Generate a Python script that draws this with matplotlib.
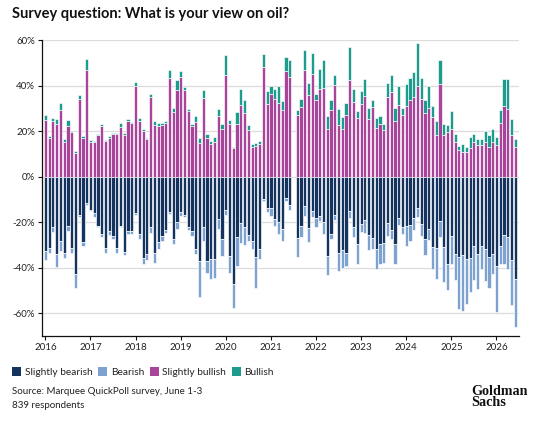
import matplotlib
matplotlib.use("Agg")
import matplotlib.pyplot as plt
from matplotlib.patches import Patch
from matplotlib.ticker import FuncFormatter
import numpy as np

plt.rcParams['font.family'] = ['Lato', 'DejaVu Sans']

# monthly survey, Jan 2016 .. Jun 2026 (no poll in Jul 2021 -> None)
start_year = 2016
years = list(range(2016, 2027))

slightly_bullish = [
    25.0, 16.8, 24.6, 23.1, 29.3, 15.1, 22.1, 19.5, 10.4, 34.1, 16.8, 47.0,
    15.1, 15.1, 18.2, 22.4, 15.5, 16.8, 18.7, 18.7, 22.0, 18.3, 24.6, 23.4,
    39.7, 24.3, 20.2, 16.5, 34.8, 22.8, 22.1, 22.7, 23.6, 43.3, 28.4, 38.1,
    43.9, 38.1, 29.0, 22.4, 24.2, 14.8, 34.7, 17.0, 14.4, 15.3, 26.5, 21.1,
    44.7, 23.1, 12.4, 23.3, 31.6, 28.1, 20.4, 13.1, 13.4, 14.5, 48.0, 32.0,
    36.4, 34.2, 32.4, 29.4, 46.5, 43.6, None, 26.9, 30.5, 46.8, 35.9, 45.1,
    33.5, 38.5, 39.0, 21.1, 29.1, 40.3, 22.8, 21.1, 26.9, 42.6, 32.7, 25.7,
    32.0, 35.6, 25.5, 30.5, 21.4, 23.3, 20.4, 34.9, 37.1, 24.3, 31.6, 26.9,
    30.8, 33.5, 34.9, 40.0, 34.2, 28.1, 30.1, 26.2, 18.2, 40.7, 18.2, 19.6,
    21.1, 15.3, 11.6, 10.6, 10.6, 12.7, 15.0, 14.1, 13.8, 15.3, 13.1, 15.0,
    14.1, 23.6, 31.0, 29.5, 18.2, 12.8,
]
bullish = [
    2.2, 1.2, 1.2, 2.1, 3.2, 1.4, 2.8, 0.7, 1.0, 1.8, 1.1, 4.8,
    1.0, 0.5, 0.6, 0.5, 0.6, 1.1, 0.6, 0.6, 1.4, 1.0, 0.6, 0.6,
    1.7, 1.3, 0.9, 0.5, 1.4, 1.8, 1.6, 1.0, 0.8, 3.6, 1.6, 4.4,
    2.5, 1.4, 0.6, 0.7, 2.3, 2.2, 3.2, 1.9, 1.4, 1.9, 3.3, 2.0,
    8.8, 1.9, 0.5, 4.9, 6.7, 5.6, 2.1, 1.3, 1.4, 1.1, 5.8, 5.4,
    3.2, 4.1, 7.2, 3.6, 6.2, 7.7, None, 2.2, 3.7, 8.9, 5.3, 9.2,
    2.9, 8.8, 12.2, 5.4, 4.4, 4.5, 7.0, 5.1, 5.4, 14.4, 5.6, 3.1,
    5.5, 7.3, 4.6, 3.0, 4.3, 3.3, 2.9, 6.1, 7.6, 5.8, 8.0, 3.2,
    9.9, 9.7, 10.9, 18.6, 9.1, 5.4, 9.9, 4.6, 6.1, 10.5, 5.1, 2.9,
    7.6, 3.3, 1.9, 3.7, 2.5, 4.8, 3.5, 2.6, 2.6, 4.6, 5.1, 5.8,
    3.4, 5.8, 11.9, 13.4, 7.0, 3.9,
]
slightly_bearish = [
    32.7, 31.5, 22.1, 33.9, 28.3, 33.4, 21.5, 31.5, 42.9, 17.0, 28.8, 11.6,
    14.8, 16.0, 21.8, 25.0, 31.5, 24.0, 25.9, 31.5, 21.5, 33.1, 24.0, 23.7,
    16.0, 25.1, 35.9, 33.9, 22.1, 33.4, 28.8, 26.2, 23.3, 15.6, 27.2, 19.9,
    15.6, 16.7, 22.1, 24.0, 32.0, 37.1, 22.1, 37.1, 36.0, 36.4, 18.6, 27.6,
    14.5, 34.9, 47.3, 26.6, 20.4, 22.3, 25.7, 28.4, 35.3, 32.0, 9.9, 13.8,
    13.8, 18.5, 20.0, 22.8, 9.5, 12.4, None, 26.9, 21.8, 13.1, 22.5, 15.3,
    18.2, 17.5, 20.0, 34.9, 25.2, 16.7, 33.5, 32.4, 33.5, 15.0, 22.3, 29.8,
    20.8, 18.9, 25.5, 26.9, 32.0, 29.8, 29.1, 20.4, 23.3, 29.5, 18.2, 22.3,
    21.8, 21.4, 18.2, 13.8, 20.8, 27.2, 22.8, 31.0, 31.3, 19.6, 31.0, 38.5,
    26.2, 34.2, 35.3, 34.5, 36.4, 35.6, 30.5, 34.2, 30.5, 32.0, 35.3, 33.9,
    39.3, 30.5, 25.5, 26.6, 36.8, 45.1,
]
bearish = [
    3.9, 1.9, 2.3, 5.8, 4.4, 2.2, 2.2, 1.9, 6.1, 0.9, 1.7, 0.9,
    0.3, 1.7, 0.4, 1.5, 1.9, 1.7, 1.4, 1.9, 0.6, 1.5, 1.4, 1.4,
    1.0, 2.2, 2.3, 2.7, 2.6, 4.4, 3.2, 2.1, 1.4, 0.7, 2.6, 2.9,
    1.8, 1.2, 1.2, 2.2, 2.2, 15.7, 6.2, 5.1, 9.1, 8.0, 4.2, 7.3,
    2.5, 7.6, 10.4, 12.7, 8.7, 7.8, 2.7, 3.3, 13.4, 4.4, 1.0, 1.9,
    3.7, 3.3, 5.0, 5.6, 1.0, 2.4, None, 8.4, 4.8, 4.4, 6.2, 2.4,
    3.9, 2.1, 5.2, 8.3, 2.0, 2.2, 8.0, 7.6, 5.8, 3.2, 4.3, 8.7,
    3.5, 5.8, 6.9, 5.1, 8.7, 8.7, 8.7, 5.8, 4.3, 9.0, 3.2, 2.7,
    8.7, 7.0, 5.1, 4.1, 5.4, 7.4, 5.1, 9.7, 13.5, 6.9, 15.5, 11.4,
    12.3, 11.3, 22.9, 24.4, 19.6, 14.9, 15.0, 15.3, 10.2, 13.8, 13.7, 9.0,
    20.0, 7.8, 13.0, 14.1, 19.6, 20.8,
]

c_sl_bear = '#14335f'
c_bear = '#7ea2cf'
c_sl_bull = '#a8459a'
c_bull = '#1d9c8d'

def to_arr(v):
    return np.array([np.nan if x is None else x for x in v], dtype=float)

sb = to_arr(slightly_bullish)
bu = to_arr(bullish)
sbe = to_arr(slightly_bearish)
be = to_arr(bearish)
months = np.arange(len(sb))
ok = ~np.isnan(sb)

fig = plt.figure(figsize=(5.41, 4.22), dpi=100)
ax = fig.add_axes([42/541, 86/422, 477/541, 296/422])

bar_kw = dict(width=0.85, edgecolor='white', linewidth=0.45, zorder=3)
m = months[ok]
ax.bar(m, sb[ok], color=c_sl_bull, **bar_kw)
ax.bar(m, bu[ok], bottom=sb[ok], color=c_bull, **bar_kw)
ax.bar(m, -sbe[ok], color=c_sl_bear, **bar_kw)
ax.bar(m, -be[ok], bottom=-sbe[ok], color=c_bear, **bar_kw)

ax.set_ylim(-70, 60)
ax.set_xlim(-0.9, 126)
ax.set_yticks(range(-60, 61, 20))
ax.yaxis.set_major_formatter(FuncFormatter(lambda v, p: f"{v:.0f}%"))
ax.set_xticks([(y - start_year) * 12 for y in years])
ax.set_xticklabels([str(y) for y in years])
ax.grid(axis='y', color='#dcdcdc', linewidth=0.9, zorder=0)
ax.set_axisbelow(True)
for s in ['top', 'right']:
    ax.spines[s].set_visible(False)
for s in ['left', 'bottom']:
    ax.spines[s].set_color('#111111')
    ax.spines[s].set_linewidth(0.9)
ax.tick_params(axis='both', length=3, width=0.8, color='#111111',
               labelsize=7, labelcolor='#222222', pad=2)

fig.text(12/541, 1 - 14/422, "Survey question: What is your view on oil?",
         fontsize=10.5, fontweight='bold', color='#111111', va='center')

handles = [Patch(facecolor=c_sl_bear, label='Slightly bearish'),
           Patch(facecolor=c_bear, label='Bearish'),
           Patch(facecolor=c_sl_bull, label='Slightly bullish'),
           Patch(facecolor=c_bull, label='Bullish')]
fig.legend(handles=handles, loc='center left', ncol=4, frameon=False,
           bbox_to_anchor=(7/541, 1 - 372/422), fontsize=7.3,
           handlelength=0.9, handleheight=0.9, handletextpad=0.35,
           columnspacing=0.55, borderpad=0, labelcolor='#222222')

fig.text(12/541, 1 - 391/422, "Source: Marquee QuickPoll survey, June 1-3",
         fontsize=7, color='#222222', va='center')
fig.text(12/541, 1 - 405/422, "839 respondents",
         fontsize=7, color='#222222', va='center')
fig.text(471/541, 1 - 397/422, "Goldman\nSachs", fontsize=10.2,
         family=['Liberation Serif', 'DejaVu Serif'], fontweight='bold',
         color='#111111', va='center', ha='left', linespacing=0.78)

fig.savefig("out.png", dpi=100)
